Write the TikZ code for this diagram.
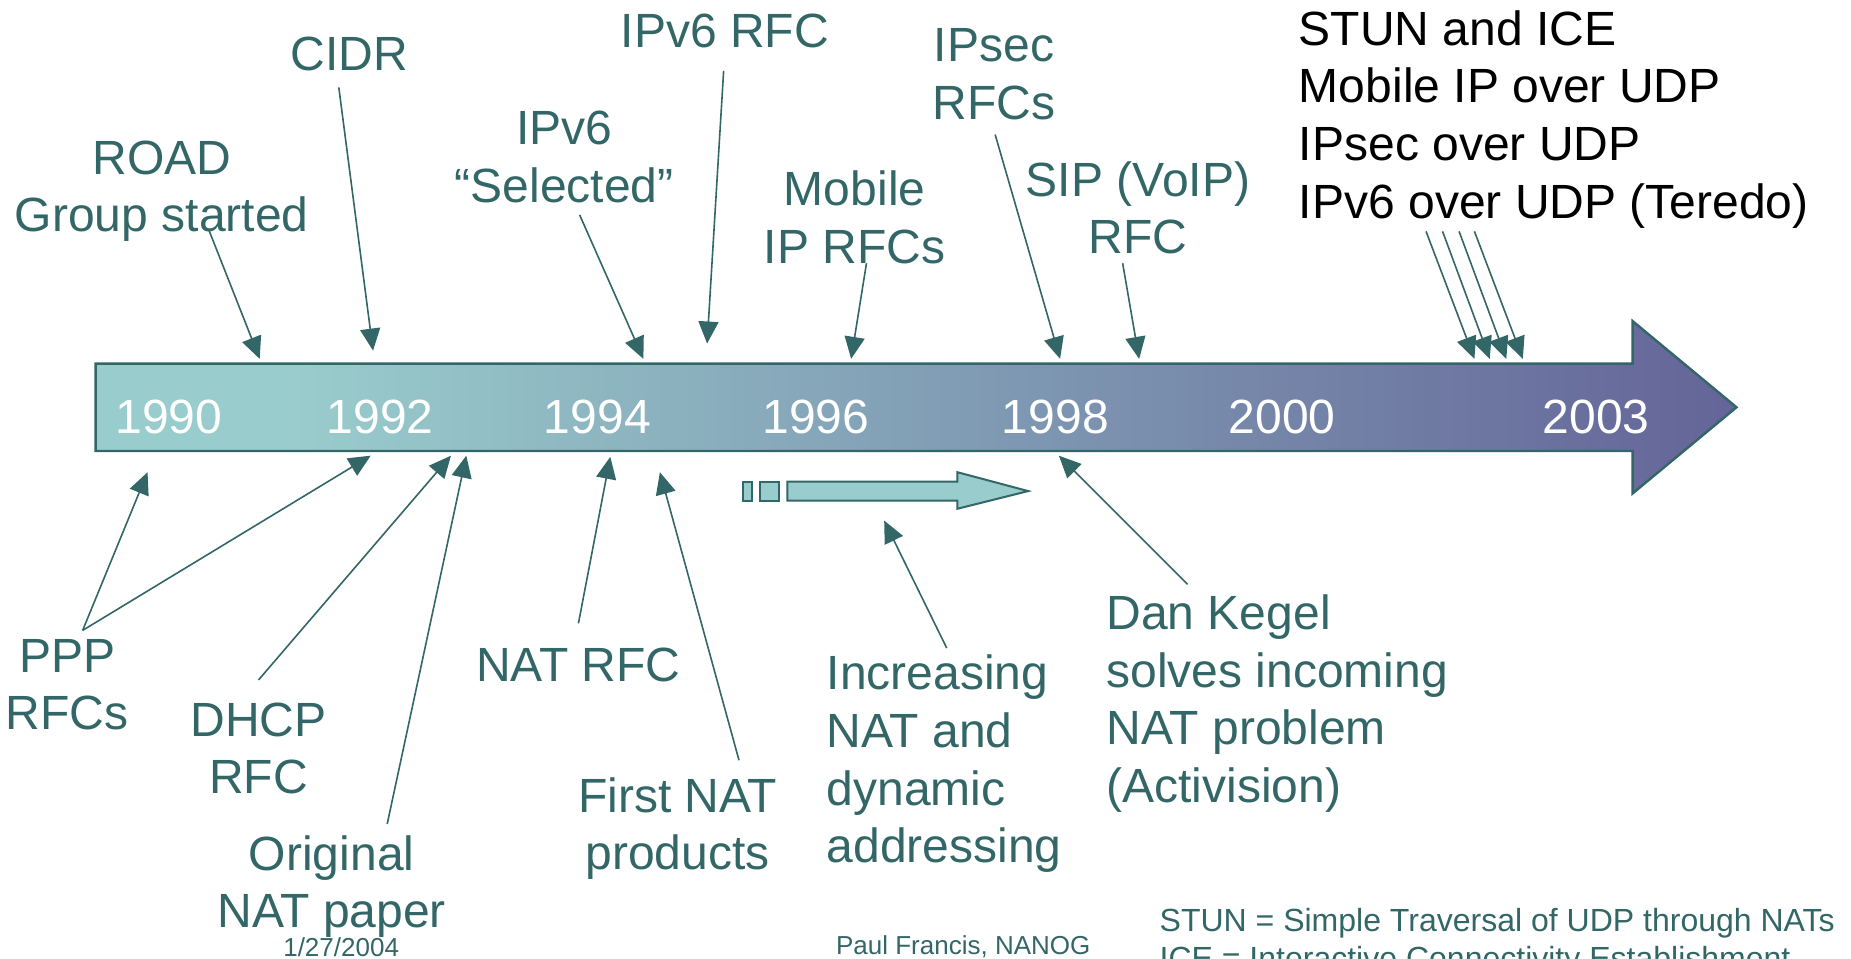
\documentclass[tikz,border=0pt]{standalone}
\usepackage{fontspec}
\setmainfont{Liberation Sans}
\usepackage{tikz}
\usetikzlibrary{arrows.meta}
\definecolor{natteal}{RGB}{51,102,102}
\definecolor{natlight}{RGB}{153,204,204}
\definecolor{natpurple}{RGB}{100,100,152}
\pgfdeclarehorizontalshading{timeline}{100bp}{color(0bp)=(natlight); color(25bp)=(natlight); color(31bp)=(natlight); color(75bp)=(natpurple); color(100bp)=(natpurple)}

\begin{document}
\begin{tikzpicture}[x=0.59pt,y=-0.59pt,>={Triangle[length=11pt,width=10pt]}]
\tikzstyle{lbl}=[text=natteal,inner sep=0pt,align=center,font=\fontsize{24}{28.8}\selectfont]
\tikzstyle{note}=[text=natteal,inner sep=0pt,align=left,anchor=west,font=\fontsize{24}{28.8}\selectfont]
\tikzstyle{year}=[text=white,inner sep=0pt,font=\fontsize{24}{28.8}\selectfont]
\tikzstyle{foot}=[text=natteal,inner sep=0pt,font=\fontsize{13}{15.6}\selectfont]
\tikzstyle{conn}=[->,draw=natteal,fill=natteal,line width=0.8pt]
\useasboundingbox (0,0) rectangle (1568,812);
\clip (0,0) rectangle (1568,812);
% timeline arrow
\shadedraw[draw=natteal,line width=1.2pt,shading=timeline]
  (81,308) -- (1383,308) -- (1383,272) -- (1471,345) -- (1383,418) -- (1383,382) -- (81,382) -- cycle;
\node[year] (y1990) at (143,353) {1990};
\node[year] (y1992) at (322,353) {1992};
\node[year] (y1994) at (506,353) {1994};
\node[year] (y1996) at (691,353) {1996};
\node[year] (y1998) at (894,353) {1998};
\node[year] (y2000) at (1086,353) {2000};
\node[year] (y2003) at (1352,353) {2003};
% small growth arrow
\filldraw[draw=natteal,fill=natlight,line width=1pt] (629,408) rectangle (637,424);
\filldraw[draw=natteal,fill=natlight,line width=1pt] (644,408) rectangle (660,424);
\filldraw[draw=natteal,fill=natlight,line width=1pt]
  (667,408) -- (811,408) -- (811,400) -- (871,416) -- (811,431) -- (811,424) -- (667,424) -- cycle;
% labels above
\node[lbl] (road) at (137,162) {ROAD\\Group started};
\node[lbl] (cidr) at (296,46) {CIDR};
\node[lbl] (v6sel) at (478,133) {IPv6\\“Selected”};
\node[lbl] (v6rfc) at (614,26) {IPv6 RFC};
\node[lbl] (mobip) at (724,184) {Mobile\\IP RFCs};
\node[lbl] (ipsec) at (842,63) {IPsec\\RFCs};
\node[lbl] (sip) at (964,176) {SIP (VoIP)\\RFC};
\node[note,text=black] (udp) at (1100,101) {STUN and ICE\\Mobile IP over UDP\\IPsec over UDP\\IPv6 over UDP (Teredo)};
% labels below
\node[lbl] (ppp) at (57,580) {PPP\\RFCs};
\node[lbl] (dhcp) at (219,634) {DHCP\\RFC};
\node[lbl] (orig) at (281,751) {Original\\NAT paper};
\node[lbl] (natrfc) at (490,563) {NAT RFC};
\node[lbl] (first) at (574,702) {First NAT\\products};
\node[note] (incr) at (700,647) {Increasing\\NAT and\\dynamic\\addressing};
\node[note] (kegel) at (937,596) {Dan Kegel\\solves incoming\\NAT problem\\(Activision)};
\node[foot] (date) at (289,802) {1/27/2004};
\node[foot] (author) at (816,802) {Paul Francis, NANOG};
\node[foot,align=left,anchor=north west,font=\fontsize{16}{19.2}\selectfont] (stun) at (982,769)
  {STUN = Simple Traversal of UDP through NATs\\ICE = Interactive Connectivity Establishment};
% connector ends
\coordinate (road-a) at (177,195);   \coordinate (road-b) at (220,304);
\coordinate (cidr-a) at (287,74);    \coordinate (cidr-b) at (316,297);
\coordinate (v6sel-a) at (491,182);  \coordinate (v6sel-b) at (545,304);
\coordinate (v6rfc-a) at (613,60);   \coordinate (v6rfc-b) at (599,291);
\coordinate (mobip-a) at (734,223);  \coordinate (mobip-b) at (721,304);
\coordinate (ipsec-a) at (843,114);  \coordinate (ipsec-b) at (898,304);
\coordinate (sip-a) at (951,223);    \coordinate (sip-b) at (965,304);
\coordinate (udp-a1) at (1208,196);  \coordinate (udp-b1) at (1249,304);
\coordinate (udp-a2) at (1222,196);  \coordinate (udp-b2) at (1262,304);
\coordinate (udp-a3) at (1236,196);  \coordinate (udp-b3) at (1276,304);
\coordinate (udp-a4) at (1249,196);  \coordinate (udp-b4) at (1290,304);
\coordinate (ppp-a) at (70,534);     \coordinate (ppp-b1) at (125,400); \coordinate (ppp-b2) at (314,386);
\coordinate (dhcp-a) at (219,576);   \coordinate (dhcp-b) at (382,386);
\coordinate (orig-a) at (328,698);   \coordinate (orig-b) at (395,386);
\coordinate (natrfc-a) at (490,528); \coordinate (natrfc-b) at (517,387);
\coordinate (first-a) at (626,644);  \coordinate (first-b) at (559,400);
\coordinate (incr-a) at (802,549);   \coordinate (incr-b) at (749,441);
\coordinate (kegel-a) at (1006,495); \coordinate (kegel-b) at (897,386);
% connectors
\draw[conn] (road-a) -- (road-b);
\draw[conn] (cidr-a) -- (cidr-b);
\draw[conn] (v6sel-a) -- (v6sel-b);
\draw[conn] (v6rfc-a) -- (v6rfc-b);
\draw[conn] (mobip-a) -- (mobip-b);
\draw[conn] (ipsec-a) -- (ipsec-b);
\draw[conn] (sip-a) -- (sip-b);
\draw[conn] (udp-a1) -- (udp-b1);
\draw[conn] (udp-a2) -- (udp-b2);
\draw[conn] (udp-a3) -- (udp-b3);
\draw[conn] (udp-a4) -- (udp-b4);
\draw[conn] (ppp-a) -- (ppp-b1);
\draw[conn] (ppp-a) -- (ppp-b2);
\draw[conn] (dhcp-a) -- (dhcp-b);
\draw[conn] (orig-a) -- (orig-b);
\draw[conn] (natrfc-a) -- (natrfc-b);
\draw[conn] (first-a) -- (first-b);
\draw[conn] (incr-a) -- (incr-b);
\draw[conn] (kegel-a) -- (kegel-b);
\end{tikzpicture}
\end{document}
